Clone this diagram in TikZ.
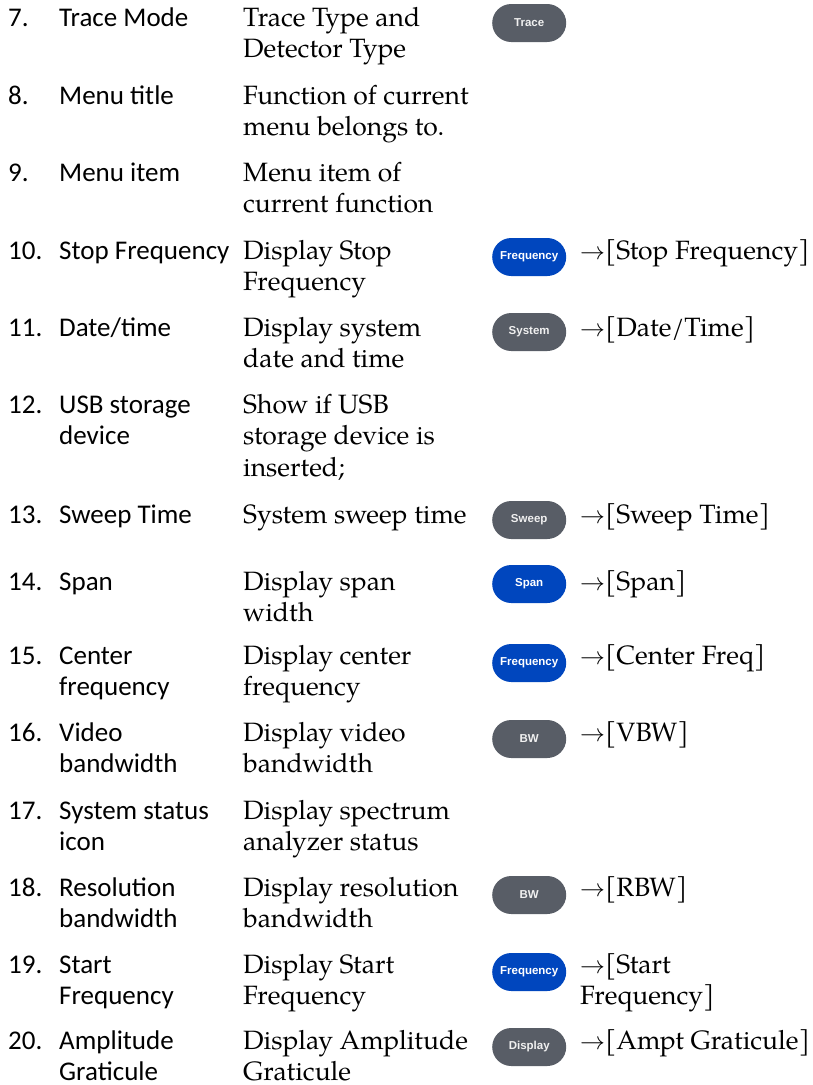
\documentclass[tikz,border=0pt]{standalone}
\usepackage{fontspec}
\setmainfont{TeX Gyre Pagella}
\newfontfamily\itemfont{Carlito}
\newfontfamily\keyfont{Liberation Sans}
\usetikzlibrary{positioning}

\definecolor{keygray}{RGB}{88,93,102}
\definecolor{keyblue}{RGB}{0,70,190}

\begin{document}
\begin{tikzpicture}[x=1pt, y=-1pt,
    cell/.style={anchor=base west, inner sep=0pt, align=left},
    two lines/.style={yshift=-31.5pt},
    three lines/.style={yshift=-63pt},
    num/.style={cell, font=\itemfont\fontsize{27}{31.5}\selectfont},
    item/.style={num},
    desc/.style={cell, font=\fontsize{26.5}{31.5}\selectfont},
    key/.style={anchor=west, rounded corners=19pt, minimum width=74pt,
	minimum height=38pt, inner sep=0pt,
	font=\keyfont\bfseries\fontsize{11.5}{13}\selectfont},
    graykey/.style={key, fill=keygray, text=white!88!gray},
    bluekey/.style={key, fill=keyblue, text=white}]
    \useasboundingbox (0, 0) rectangle (812, 1085);

    % 7
    \node[num] (n7) at (8, 26) {7.};
    \node[item] (i7) at (59, 26) {Trace Mode};
    \node[desc, two lines] (d7) at (243, 26) {Trace Type and\\Detector Type};
    \node[graykey] (k7) at (492, 23) {Trace};
    % 8
    \node[num] (n8) at (8, 104) {8.};
    \node[item] (i8) at (59, 104) {Menu title};
    \node[desc, two lines] (d8) at (243, 104) {Function of current\\menu belongs to.};
    % 9
    \node[num] (n9) at (8, 181) {9.};
    \node[item] (i9) at (59, 181) {Menu item};
    \node[desc, two lines] (d9) at (243, 181) {Menu item of\\current function};
    % 10
    \node[num] (n10) at (8, 259) {10.};
    \node[item] (i10) at (59, 259) {Stop Frequency};
    \node[desc, two lines] (d10) at (243, 259) {Display Stop\\Frequency};
    \node[bluekey] (k10) at (492, 257) {Frequency};
    \node[desc] (a10) at (580, 259) {$\rightarrow$[Stop Frequency]};
    % 11
    \node[num] (n11) at (8, 336) {11.};
    \node[item] (i11) at (59, 336) {Date/time};
    \node[desc, two lines] (d11) at (243, 336) {Display system\\date and time};
    \node[graykey] (k11) at (492, 332) {System};
    \node[desc] (a11) at (580, 336) {$\rightarrow$[Date/Time]};
    % 12
    \node[num] (n12) at (8, 413) {12.};
    \node[item, two lines] (i12) at (59, 413) {USB storage\\device};
    \node[desc, three lines] (d12) at (243, 413) {Show if USB\\storage device is\\inserted;};
    % 13
    \node[num] (n13) at (8, 523) {13.};
    \node[item] (i13) at (59, 523) {Sweep Time};
    \node[desc] (d13) at (243, 523) {System sweep time};
    \node[graykey] (k13) at (492, 520) {Sweep};
    \node[desc] (a13) at (580, 523) {$\rightarrow$[Sweep Time]};
    % 14
    \node[num] (n14) at (8, 590) {14.};
    \node[item] (i14) at (59, 590) {Span};
    \node[desc, two lines] (d14) at (243, 590) {Display span\\width};
    \node[bluekey] (k14) at (492, 584) {Span};
    \node[desc] (a14) at (580, 590) {$\rightarrow$[Span]};
    % 15
    \node[num] (n15) at (8, 664) {15.};
    \node[item, two lines] (i15) at (59, 664) {Center\\frequency};
    \node[desc, two lines] (d15) at (243, 664) {Display center\\frequency};
    \node[bluekey] (k15) at (492, 663) {Frequency};
    \node[desc] (a15) at (580, 664) {$\rightarrow$[Center Freq]};
    % 16
    \node[num] (n16) at (8, 741) {16.};
    \node[item, two lines] (i16) at (59, 741) {Video\\bandwidth};
    \node[desc, two lines] (d16) at (243, 741) {Display video\\bandwidth};
    \node[graykey] (k16) at (492, 739) {BW};
    \node[desc] (a16) at (580, 741) {$\rightarrow$[VBW]};
    % 17
    \node[num] (n17) at (8, 819) {17.};
    \node[item, two lines] (i17) at (59, 819) {System status\\icon};
    \node[desc, two lines] (d17) at (243, 819) {Display spectrum\\analyzer status};
    % 18
    \node[num] (n18) at (8, 896) {18.};
    \node[item, two lines] (i18) at (59, 896) {Resolution\\bandwidth};
    \node[desc, two lines] (d18) at (243, 896) {Display resolution\\bandwidth};
    \node[graykey] (k18) at (492, 895) {BW};
    \node[desc] (a18) at (580, 896) {$\rightarrow$[RBW]};
    % 19
    \node[num] (n19) at (8, 973) {19.};
    \node[item, two lines] (i19) at (59, 973) {Start\\Frequency};
    \node[desc, two lines] (d19) at (243, 973) {Display Start\\Frequency};
    \node[bluekey] (k19) at (492, 972) {Frequency};
    \node[desc, two lines] (a19) at (580, 973) {$\rightarrow$[Start\\Frequency]};
    % 20
    \node[num] (n20) at (8, 1049) {20.};
    \node[item, two lines] (i20) at (59, 1049) {Amplitude\\Graticule};
    \node[desc, two lines] (d20) at (243, 1049) {Display Amplitude\\Graticule};
    \node[graykey] (k20) at (492, 1047) {Display};
    \node[desc] (a20) at (580, 1049) {$\rightarrow$[Ampt Graticule]};
\end{tikzpicture}
\end{document}
